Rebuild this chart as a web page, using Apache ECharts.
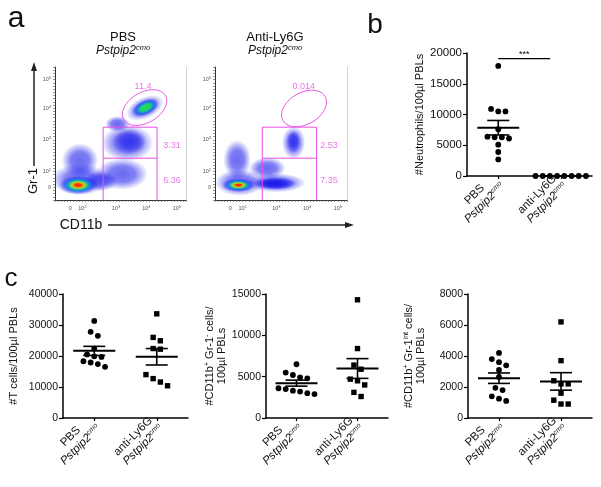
<!DOCTYPE html>
<html><head><meta charset="utf-8">
<script src="https://cdn.jsdelivr.net/npm/echarts@6/dist/echarts.min.js"></script>
<style>html,body{margin:0;padding:0;background:#fff}#c{width:601px;height:487px}</style>
</head><body><div id="c"></div><script>
const FONT = '"Liberation Sans", Arial, sans-serif';

// ---------- panel a : flow cytometry (biexponential display units) ----------
const flowTitles = ['PBS', 'Anti-Ly6G'];
const genotype = 'Pstpip2';
const genotypeSup = 'cmo';
const flowXTickPos = [0, 0.4, 1.5, 2.5, 3.5];
const flowYTickPos = [0, 0.5, 1.5, 2.5, 3.4];
const flowTickLabels = ['0', '10^2', '10^3', '10^4', '10^5'];
// cell populations: [x, y, spreadX, spreadY, tiltDeg, densityLevel]
const pbsPopulations = [
  [0.32, 0.25, 0.95, 0.50, 0, 0],
  [0.32, 0.85, 0.60, 0.55, 0, 0],
  [1.00, 0.20, 0.55, 0.32, 0, 0],
  [1.70, 0.42, 0.85, 0.50, 0, 0],
  [1.88, 1.40, 0.85, 0.58, 0, 0],
  [1.95, 1.45, 0.55, 0.40, 0, 0],
  [1.55, 2.00, 0.40, 0.25, 0, 0],
  [2.45, 2.51, 0.65, 0.34, 25, 0],
  [2.47, 2.52, 0.48, 0.24, 25, 3],
  [0.26, 0.07, 0.65, 0.30, 0, 5]
];
const antiPopulations = [
  [0.30, 0.15, 0.80, 0.42, 0, 0],
  [0.22, 0.88, 0.45, 0.62, 0, 0],
  [1.20, 0.60, 0.60, 0.35, 0, 0],
  [1.50, 0.14, 0.95, 0.30, 0, 0],
  [1.45, 0.12, 0.70, 0.20, 0, 1],
  [2.06, 1.41, 0.38, 0.52, 0, 0],
  [2.06, 1.45, 0.22, 0.35, 0, 0],
  [0.26, 0.07, 0.55, 0.22, 0, 5]
];
// gates: rect [x0, x1, yMid, yTop], ellipse [cx, cy, a, b, tiltDeg]
const pbsRectGate = [1.08, 2.85, 0.92, 1.90];
const antiRectGate = [1.04, 2.81, 0.92, 1.90];
const pbsEllipseGate = [2.44, 2.52, 0.79, 0.48, 30];
const antiEllipseGate = [2.40, 2.49, 0.79, 0.50, 30];
const pbsGateFreq = ['11.4', '3.31', '6.36'];
const antiGateFreq = ['0.014', '2.53', '7.35'];
const pbsGateFreqPos = [[2.39, 3.19], [3.34, 1.33], [3.34, 0.23]];
const antiGateFreqPos = [[2.39, 3.18], [3.21, 1.33], [3.21, 0.23]];

// ---------- panels b, c : dot plots ----------
const groupNames = ['PBS', 'anti-Ly6G'];
const neutroPBS = [17900, 10900, 10500, 10500, 7600, 6400, 6300, 6300, 6100, 5100, 3900, 2700];
const neutroAnti = [0, 0, 0, 0, 0, 0, 0, 0];
const tcellPBS = [31300, 27800, 26500, 22400, 20500, 19900, 19700, 18300, 17900, 17400, 16500];
const tcellAnti = [33600, 26000, 24900, 22400, 22200, 14000, 12700, 11600, 10400];
const gr1negPBS = [6500, 5500, 5200, 4900, 4800, 3600, 3500, 3300, 3200, 3000, 2900];
const gr1negAnti = [14300, 8400, 6400, 5900, 4700, 4500, 4000, 3100, 2600];
const gr1intPBS = [4200, 3800, 3600, 3400, 3100, 2650, 1950, 1800, 1400, 1250, 1100];
const gr1intAnti = [6200, 3700, 2400, 2200, 2200, 1600, 1150, 900, 900];
const neutroSigValue = 19100;
const neutroSigText = '***';

// ---------- helpers ----------
const FLOW_XMIN = -0.5, FLOW_XMAX = 3.8, FLOW_YMIN = -0.4, FLOW_YMAX = 3.8;
const DENS = ['25,25,235', '0,175,255', '40,220,80', '255,225,0', '255,30,0'];

function supRich(size) {
  return {
    b: {fontSize: size, color: '#555', fontFamily: FONT},
    e: {fontSize: size * 0.72, color: '#555', fontFamily: FONT, padding: [0, 0, size * 0.6, 0]}
  };
}
function flowFmt(ticks) {
  return function (v) {
    const i = ticks.findIndex(t => Math.abs(t - v) < 1e-3);
    if (i < 0) return '';
    const l = flowTickLabels[i];
    return l.indexOf('^') >= 0 ? '{b|10}{e|' + l.split('^')[1] + '}' : '{b|' + l + '}';
  };
}
function flowX(gi) {
  return {gridIndex: gi, type: 'value', min: FLOW_XMIN, max: FLOW_XMAX, interval: 0.1,
    axisLine: {show: true, onZero: false, lineStyle: {color: '#333', width: 1}},
    axisTick: {show: true, length: 2, lineStyle: {color: '#555', width: 0.6}},
    axisLabel: {formatter: flowFmt(flowXTickPos), rich: supRich(5.5), margin: 5},
    splitLine: {show: false}};
}
function flowY(gi) {
  return {gridIndex: gi, type: 'value', min: FLOW_YMIN, max: FLOW_YMAX, interval: 0.1,
    axisLine: {show: true, onZero: false, lineStyle: {color: '#333', width: 1}},
    axisTick: {show: true, length: 2, lineStyle: {color: '#555', width: 0.6}},
    axisLabel: {formatter: flowFmt(flowYTickPos), rich: supRich(5.5), margin: 4},
    splitLine: {show: false}};
}
function flowYRight(gi) {
  return {gridIndex: gi, type: 'value', min: FLOW_YMIN, max: FLOW_YMAX, position: 'right',
    axisLine: {show: true, onZero: false, lineStyle: {color: '#d4d4d4', width: 1}},
    axisTick: {show: false}, axisLabel: {show: false}, splitLine: {show: false}};
}
function populationRender(params, api) {
  const c = api.coord([api.value(0), api.value(1)]);
  const s = api.size([api.value(2), api.value(3)]);
  const rot = api.value(4) * Math.PI / 180;
  const level = api.value(5);
  const n = level === 0 ? 1 : level;
  const children = [];
  for (let i = 0; i < n; i++) {
    const f = level === 0 ? 1 : 1 - i * 0.17;
    const col = DENS[i];
    const a0 = level === 0 ? 0.65 : 1;
    children.push({type: 'circle', x: c[0], y: c[1], rotation: rot, scaleY: s[1] / s[0],
      shape: {cx: 0, cy: 0, r: s[0] * f}, silent: true,
      style: {fill: {type: 'radial', x: 0.5, y: 0.5, r: 0.5, colorStops: [
        {offset: 0, color: 'rgba(' + col + ',' + a0 + ')'},
        {offset: 0.5, color: 'rgba(' + col + ',' + (a0 * 0.85) + ')'},
        {offset: 1, color: 'rgba(' + col + ',0)'}]}}});
  }
  return {type: 'group', children};
}
function gateRender(params, api) {
  const p = (x, y) => api.coord([x, y]);
  const x0 = api.value(0), x1 = api.value(1), ym = api.value(2), yt = api.value(3);
  const ec = p(api.value(4), api.value(5));
  const es = api.size([api.value(6), api.value(7)]);
  const th = api.value(8) * Math.PI / 180;
  const epts = [];
  for (let k = 0; k <= 72; k++) {
    const t = k / 72 * 2 * Math.PI;
    const ex = es[0] * Math.cos(t), ey = es[1] * Math.sin(t);
    epts.push([ec[0] + ex * Math.cos(th) + ey * Math.sin(th), ec[1] - ex * Math.sin(th) + ey * Math.cos(th)]);
  }
  const st = {stroke: '#e650e6', lineWidth: 1, fill: null};
  return {type: 'group', children: [
    {type: 'polyline', shape: {points: [p(x0, FLOW_YMIN), p(x0, yt), p(x1, yt), p(x1, FLOW_YMIN)]}, style: st},
    {type: 'line', shape: {x1: p(x0, ym)[0], y1: p(x0, ym)[1], x2: p(x1, ym)[0], y2: p(x1, ym)[1]}, style: st},
    {type: 'polyline', shape: {points: epts}, style: st}
  ]};
}

function catX(gi) {
  return {gridIndex: gi, type: 'category', data: groupNames, boundaryGap: true,
    axisLine: {show: true, lineStyle: {color: '#000', width: 1.5}},
    axisTick: {show: true, alignWithLabel: true, length: 3, lineStyle: {color: '#000', width: 1.2}},
    axisLabel: {interval: 0, rotate: 45, margin: 4, lineHeight: 13,
      formatter: v => '{n|' + v + '}\n{i|' + genotype + '}{s|' + genotypeSup + '}',
      rich: {
        n: {fontSize: 11.5, fontFamily: FONT, color: '#111', width: 54, align: 'center'},
        i: {fontSize: 11.5, fontFamily: FONT, color: '#111', fontStyle: 'italic'},
        s: {fontSize: 7, fontFamily: FONT, color: '#111', fontStyle: 'italic', padding: [0, 0, 6, 0]}
      }},
    splitLine: {show: false}};
}
function valY(gi, max, interval, name, gap, fs) {
  return {gridIndex: gi, type: 'value', min: 0, max: max, interval: interval,
    name: name, nameLocation: 'middle', nameGap: gap, nameRotate: 90,
    nameTextStyle: {fontSize: 11, fontFamily: FONT, color: '#111', lineHeight: 12,
      rich: {t: {fontSize: 11, fontFamily: FONT, color: '#111'},
             u: {fontSize: 7, fontFamily: FONT, color: '#111', padding: [0, 0, 6, 0]}}},
    axisLine: {show: true, lineStyle: {color: '#000', width: 1.5}},
    axisTick: {show: true, length: 4, lineStyle: {color: '#000', width: 1.2}},
    axisLabel: {fontSize: fs, fontFamily: FONT, color: '#111', margin: 5, formatter: v => String(v)},
    splitLine: {show: false}};
}
function swarmOffsets(values, api, cat) {
  const ys = values.map(v => api.coord([cat, v])[1]);
  const idx = values.map((v, i) => i).sort((a, b) => ys[a] - ys[b]);
  const off = values.map(() => 0);
  const rows = [];
  let row = [idx[0]];
  for (let k = 1; k < idx.length; k++) {
    if (ys[idx[k]] - ys[row[row.length - 1]] < 4.2) row.push(idx[k]);
    else { rows.push(row); row = [idx[k]]; }
  }
  rows.push(row);
  rows.forEach(r => r.forEach((i, j) => { off[i] = (j - (r.length - 1) / 2) * 7.2; }));
  return off;
}
function dotSeries(gi, values, cat, square) {
  return {type: 'custom', xAxisIndex: gi, yAxisIndex: gi, clip: false, z: 3,
    data: values.map(v => [cat, v]),
    renderItem: function (params, api) {
      const offs = swarmOffsets(values, api, cat);
      const c = api.coord([cat, api.value(1)]);
      const x = c[0] + offs[params.dataIndex];
      if (!square) return {type: 'circle', shape: {cx: x, cy: c[1], r: 2.9}, style: {fill: '#000'}};
      return {type: 'rect', shape: {x: x - 2.7, y: c[1] - 2.7, width: 5.4, height: 5.4}, style: {fill: '#000'}};
    }};
}
function meanSem(values) {
  const n = values.length;
  const m = values.reduce((a, b) => a + b, 0) / n;
  const sd = Math.sqrt(values.reduce((a, b) => a + (b - m) * (b - m), 0) / (n - 1));
  return [m, sd / Math.sqrt(n)];
}
function statSeries(gi, groups) {
  return {type: 'custom', xAxisIndex: gi, yAxisIndex: gi, clip: false, z: 4,
    data: groups.map((vals, cat) => [cat].concat(meanSem(vals))),
    renderItem: function (params, api) {
      const cat = api.value(0), m = api.value(1), se = api.value(2);
      const cm = api.coord([cat, m]), cu = api.coord([cat, m + se]), cl = api.coord([cat, m - se]);
      const st = {stroke: '#000', lineWidth: 1.6};
      return {type: 'group', children: [
        {type: 'line', shape: {x1: cm[0] - 21, y1: cm[1], x2: cm[0] + 21, y2: cm[1]}, style: {stroke: '#000', lineWidth: 2}},
        {type: 'line', shape: {x1: cu[0], y1: cu[1], x2: cl[0], y2: cl[1]}, style: st},
        {type: 'line', shape: {x1: cu[0] - 11, y1: cu[1], x2: cu[0] + 11, y2: cu[1]}, style: st},
        {type: 'line', shape: {x1: cl[0] - 11, y1: cl[1], x2: cl[0] + 11, y2: cl[1]}, style: st}
      ]};
    }};
}

const italicRich = {
  i: {fontSize: 12, fontFamily: FONT, fontStyle: 'italic', color: '#111'},
  s: {fontSize: 7.5, fontFamily: FONT, fontStyle: 'italic', color: '#111', padding: [0, 0, 6, 0]}
};
function txt(x, y, text, size, extra) {
  return Object.assign({type: 'text', x: x, y: y, silent: true,
    style: {text: text, font: size + 'px ' + FONT, fill: '#111', textAlign: 'center', align: 'center',
      textVerticalAlign: 'middle', verticalAlign: 'middle'}}, extra || {});
}

const option = {
  animation: false,
  backgroundColor: '#fff',
  textStyle: {fontFamily: FONT},
  grid: [
    {left: 55, top: 67, width: 131, height: 133},
    {left: 215, top: 67, width: 132, height: 133},
    {left: 467, top: 53, width: 125, height: 123},
    {left: 63, top: 294, width: 125, height: 124},
    {left: 266, top: 294, width: 122, height: 124},
    {left: 468, top: 294, width: 124, height: 124}
  ],
  xAxis: [flowX(0), flowX(1), catX(2), catX(3), catX(4), catX(5)],
  yAxis: [
    flowY(0), flowY(1),
    valY(2, 20000, 5000, '#Neutrophils/100µl PBLs', 40, 11.5),
    valY(3, 40000, 10000, '#T cells/100µl PBLs', 43, 10.5),
    valY(4, 15000, 5000, '{t|#CD11b}{u|+}{t| Gr-1}{u|-}{t| cells/}\n{t|100µl PBLs}', 37, 10.5),
    valY(5, 8000, 2000, '{t|#CD11b}{u|+}{t| Gr-1}{u|int}{t| cells/}\n{t|100µl PBLs}', 41, 10.5),
    flowYRight(0), flowYRight(1)
  ],
  series: [
    {type: 'custom', xAxisIndex: 0, yAxisIndex: 0, clip: true, data: pbsPopulations, renderItem: populationRender},
    {type: 'custom', xAxisIndex: 1, yAxisIndex: 1, clip: true, data: antiPopulations, renderItem: populationRender},
    {type: 'custom', xAxisIndex: 0, yAxisIndex: 0, clip: false, z: 5, data: [pbsRectGate.concat(pbsEllipseGate)], renderItem: gateRender},
    {type: 'custom', xAxisIndex: 1, yAxisIndex: 1, clip: false, z: 5, data: [antiRectGate.concat(antiEllipseGate)], renderItem: gateRender},
    {type: 'scatter', xAxisIndex: 0, yAxisIndex: 0, symbolSize: 1, itemStyle: {color: 'rgba(0,0,0,0)'}, z: 6,
      data: pbsGateFreqPos.map((p, i) => ({value: p, name: pbsGateFreq[i]})),
      label: {show: true, position: 'inside', formatter: p => p.name, fontSize: 9, color: '#e650e6', fontFamily: FONT}},
    {type: 'scatter', xAxisIndex: 1, yAxisIndex: 1, symbolSize: 1, itemStyle: {color: 'rgba(0,0,0,0)'}, z: 6,
      data: antiGateFreqPos.map((p, i) => ({value: p, name: antiGateFreq[i]})),
      label: {show: true, position: 'inside', formatter: p => p.name, fontSize: 9, color: '#e650e6', fontFamily: FONT}},

    dotSeries(2, neutroPBS, 0, false), dotSeries(2, neutroAnti, 1, false), statSeries(2, [neutroPBS, neutroAnti]),
    dotSeries(3, tcellPBS, 0, false), dotSeries(3, tcellAnti, 1, true), statSeries(3, [tcellPBS, tcellAnti]),
    dotSeries(4, gr1negPBS, 0, false), dotSeries(4, gr1negAnti, 1, true), statSeries(4, [gr1negPBS, gr1negAnti]),
    dotSeries(5, gr1intPBS, 0, false), dotSeries(5, gr1intAnti, 1, true), statSeries(5, [gr1intPBS, gr1intAnti]),
    {type: 'custom', xAxisIndex: 2, yAxisIndex: 2, clip: false, data: [[0, neutroSigValue]],
      renderItem: function (params, api) {
        const a = api.coord([0, api.value(1)]), b = api.coord([1, api.value(1)]);
        const xe = a[0] + (b[0] - a[0]) * 0.83;
        return {type: 'group', children: [
          {type: 'line', shape: {x1: a[0], y1: a[1], x2: xe, y2: a[1]}, style: {stroke: '#000', lineWidth: 1.2}},
          {type: 'text', x: (a[0] + xe) / 2, y: a[1] - 4, style: {text: neutroSigText, font: '9px ' + FONT, fill: '#000', align: 'center', verticalAlign: 'middle'}}
        ]};
      }}
  ],
  graphic: [
    txt(16, 19, 'a', 30),
    txt(375, 25, 'b', 28),
    txt(11, 279, 'c', 26),
    txt(123, 37, flowTitles[0], 13),
    txt(123, 51, '{i|' + genotype + '}{s|' + genotypeSup + '}', 12, {}),
    txt(275, 37, flowTitles[1], 13),
    txt(275, 51, '{i|' + genotype + '}{s|' + genotypeSup + '}', 12, {}),
    txt(33, 181, 'Gr-1', 13, {rotation: Math.PI / 2}),
    {type: 'line', silent: true, shape: {x1: 34, y1: 166, x2: 34, y2: 70}, style: {stroke: '#222', lineWidth: 1.5}},
    {type: 'polygon', silent: true, shape: {points: [[34, 62], [31, 71], [37, 71]]}, style: {fill: '#222'}},
    txt(81, 225, 'CD11b', 14),
    {type: 'line', silent: true, shape: {x1: 108, y1: 225, x2: 346, y2: 225}, style: {stroke: '#222', lineWidth: 1.5}},
    {type: 'polygon', silent: true, shape: {points: [[354, 225], [345, 222], [345, 228]]}, style: {fill: '#222'}}
  ]
};
option.graphic[4].style.rich = italicRich;
option.graphic[6].style.rich = italicRich;

const chart = echarts.init(document.getElementById('c'), null, {renderer: 'canvas'});
chart.setOption(option);
</script></body></html>
